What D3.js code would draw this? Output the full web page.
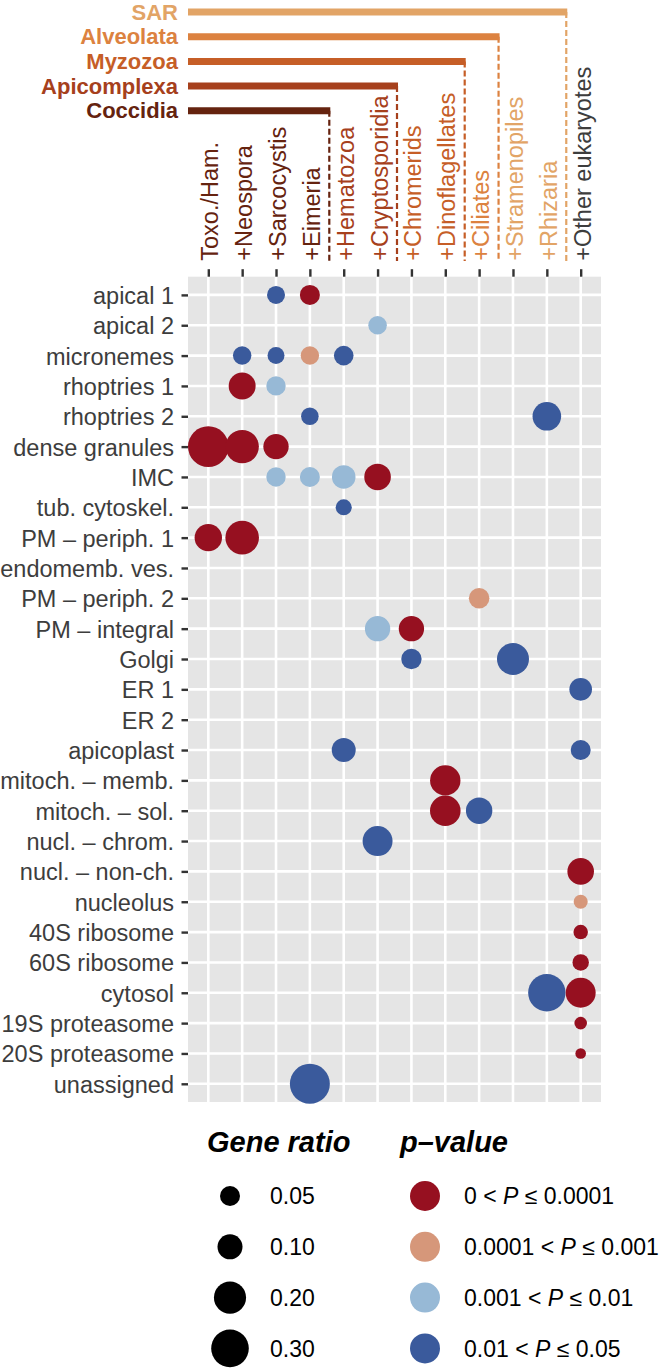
<!DOCTYPE html>
<html><head><meta charset="utf-8">
<script src="https://cdn.jsdelivr.net/npm/d3@7"></script>
<style>
body{margin:0;background:#fff}
svg{display:block}
text{font-family:"Liberation Sans",Arial,Helvetica,sans-serif}
</style>
</head><body>
<svg id="c" width="661" height="1368"></svg>
<script>
const categories = ["apical 1","apical 2","micronemes","rhoptries 1","rhoptries 2","dense granules","IMC","tub. cytoskel.","PM – periph. 1","endomemb. ves.","PM – periph. 2","PM – integral","Golgi","ER 1","ER 2","apicoplast","mitoch. – memb.","mitoch. – sol.","nucl. – chrom.","nucl. – non-ch.","nucleolus","40S ribosome","60S ribosome","cytosol","19S proteasome","20S proteasome","unassigned"];
const taxa = ["Toxo./Ham.","+Neospora","+Sarcocystis","+Eimeria","+Hematozoa","+Cryptosporidia","+Chromerids","+Dinoflagellates","+Ciliates","+Stramenopiles","+Rhizaria","+Other eukaryotes"];
const clades = ["SAR","Alveolata","Myzozoa","Apicomplexa","Coccidia"];
const cladeLastTaxon = ["+Rhizaria","+Ciliates","+Dinoflagellates","+Cryptosporidia","+Eimeria"];
const cladeColors = ["#E2A466","#DC8240","#C65E27","#A6401C","#65230F"];
const otherTaxonColor = "#3d3d3d";
const pBreaks = ["0","0.0001","0.001","0.01","0.05"];
const pColors = ["#961020","#D6977A","#97B9D6","#3A5A9C"];
const sizeBreaks = [0.05,0.10,0.20,0.30];
const sizeLabels = ["0.05","0.10","0.20","0.30"];
// [category, taxon, gene ratio, p-value class (0..3)]
const dots = [
  ["apical 1","+Sarcocystis",0.035,3],
  ["apical 1","+Eimeria",0.050,0],
  ["apical 2","+Cryptosporidia",0.039,2],
  ["micronemes","+Neospora",0.038,3],
  ["micronemes","+Sarcocystis",0.028,3],
  ["micronemes","+Eimeria",0.038,1],
  ["micronemes","+Hematozoa",0.047,3],
  ["rhoptries 1","+Neospora",0.124,0],
  ["rhoptries 1","+Sarcocystis",0.045,2],
  ["rhoptries 2","+Eimeria",0.032,3],
  ["rhoptries 2","+Rhizaria",0.146,3],
  ["dense granules","Toxo./Ham.",0.364,0],
  ["dense granules","+Neospora",0.221,0],
  ["dense granules","+Sarcocystis",0.104,0],
  ["IMC","+Sarcocystis",0.045,2],
  ["IMC","+Eimeria",0.050,2],
  ["IMC","+Hematozoa",0.084,2],
  ["IMC","+Cryptosporidia",0.119,0],
  ["tub. cytoskel.","+Hematozoa",0.0225,3],
  ["PM – periph. 1","Toxo./Ham.",0.130,0],
  ["PM – periph. 1","+Neospora",0.225,0],
  ["PM – periph. 2","+Ciliates",0.055,1],
  ["PM – integral","+Cryptosporidia",0.104,2],
  ["PM – integral","+Chromerids",0.104,0],
  ["Golgi","+Chromerids",0.053,3],
  ["Golgi","+Stramenopiles",0.198,3],
  ["ER 1","+Other eukaryotes",0.074,3],
  ["apicoplast","+Hematozoa",0.088,3],
  ["apicoplast","+Other eukaryotes",0.050,3],
  ["mitoch. – memb.","+Dinoflagellates",0.172,0],
  ["mitoch. – sol.","+Dinoflagellates",0.175,0],
  ["mitoch. – sol.","+Ciliates",0.117,3],
  ["nucl. – chrom.","+Cryptosporidia",0.166,3],
  ["nucl. – non-ch.","+Other eukaryotes",0.119,0],
  ["nucleolus","+Other eukaryotes",0.013,1],
  ["40S ribosome","+Other eukaryotes",0.015,0],
  ["60S ribosome","+Other eukaryotes",0.025,0],
  ["cytosol","+Rhizaria",0.296,3],
  ["cytosol","+Other eukaryotes",0.166,0],
  ["19S proteasome","+Other eukaryotes",0.0076,0],
  ["20S proteasome","+Other eukaryotes",0.0026,0],
  ["unassigned","+Eimeria",0.350,3]
];

const svg = d3.select("#c");
const P = {l:188, r:601, t:276.7, b:1102};
const FS = "23.5px";
const LFS = "23px";

const x = d3.scalePoint().domain(taxa).range([P.l, P.r]).padding(0.6);
const y = d3.scalePoint().domain(categories).range([P.t, P.b]).padding(0.6);
const r = d3.scalePow().exponent(0.5).domain([0.05, 0.30]).range([10, 18.8]);

// panel
svg.append("rect").attr("x",P.l).attr("y",P.t).attr("width",P.r-P.l).attr("height",P.b-P.t).attr("fill","#E5E5E5");
const grid = svg.append("g").attr("stroke","#fff").attr("stroke-width",2.6);
grid.selectAll("line.v").data(taxa).join("line").attr("class","v")
  .attr("x1",d=>x(d)).attr("x2",d=>x(d)).attr("y1",P.t).attr("y2",P.b);
grid.selectAll("line.h").data(categories).join("line").attr("class","h")
  .attr("y1",d=>y(d)).attr("y2",d=>y(d)).attr("x1",P.l).attr("x2",P.r);

// left axis
const ya = svg.append("g").attr("transform",`translate(${P.l},0)`)
  .call(d3.axisLeft(y).tickSize(6.5).tickPadding(7.5));
ya.select(".domain").remove();
ya.selectAll(".tick line").attr("stroke","#333").attr("stroke-width",2.4);
ya.selectAll(".tick text").attr("fill","#3d3d3d").style("font-size",FS).attr("dy","0.36em");

// taxon color: innermost clade containing it
function taxonColor(t){
  const i = taxa.indexOf(t);
  let col = otherTaxonColor, bestEnd = Infinity;
  cladeLastTaxon.forEach((e,k)=>{
    const ei = taxa.indexOf(e);
    if (i <= ei && ei < bestEnd){ bestEnd = ei; col = cladeColors[k]; }
  });
  return col;
}

// top axis
const xa = svg.append("g").attr("transform",`translate(0,${P.t})`)
  .call(d3.axisTop(x).tickSize(7.5));
xa.select(".domain").remove();
xa.selectAll(".tick line").attr("stroke","#333").attr("stroke-width",2.4);
xa.selectAll(".tick text")
  .attr("x",0).attr("y",0).attr("dy",0)
  .attr("text-anchor","start")
  .attr("transform","translate(9.5,-16) rotate(-90)")
  .style("font-size",FS)
  .attr("fill",d=>taxonColor(d));

// clade brackets
const labBottom = 261;
clades.forEach((c,k)=>{
  const yy = 12 + 24.7*k;
  const ei = taxa.indexOf(cladeLastTaxon[k]);
  const xe = (x(taxa[ei]) + x(taxa[ei+1]))/2 + 2.5;
  const g = svg.append("g");
  g.append("line").attr("x1",P.l).attr("x2",xe+1).attr("y1",yy).attr("y2",yy)
    .attr("stroke",cladeColors[k]).attr("stroke-width",7);
  g.append("line").attr("x1",xe).attr("x2",xe).attr("y1",yy).attr("y2",labBottom)
    .attr("stroke",cladeColors[k]).attr("stroke-width",2.2).attr("stroke-dasharray","6,3");
  g.append("text").attr("x",178).attr("y",yy+7.5).attr("text-anchor","end")
    .style("font-size","22px").style("font-weight","bold").attr("fill",cladeColors[k]).text(c);
});

// dots
svg.append("g").selectAll("circle").data(dots).join("circle")
  .attr("cx",d=>x(d[1])).attr("cy",d=>y(d[0])).attr("r",d=>r(d[2]))
  .attr("fill",d=>pColors[d[3]]);

// legends
const lg = svg.append("g");
lg.append("text").attr("x",207).attr("y",1152).style("font-size","29px")
  .style("font-weight","bold").style("font-style","italic").attr("fill","#000").text("Gene ratio");
lg.append("text").attr("x",400).attr("y",1152).style("font-size","29px")
  .style("font-weight","bold").style("font-style","italic").attr("fill","#000").text("p–value");
const ly = i => 1196 + i*50.8;
sizeBreaks.forEach((v,i)=>{
  lg.append("circle").attr("cx",230).attr("cy",ly(i)).attr("r",r(v)).attr("fill","#000");
  lg.append("text").attr("x",270).attr("y",ly(i)).attr("dy","0.36em").style("font-size",LFS)
    .attr("fill","#000").text(sizeLabels[i]);
});
pColors.forEach((c,i)=>{
  lg.append("circle").attr("cx",425).attr("cy",ly(i)).attr("r",15).attr("fill",c);
  const t = lg.append("text").attr("x",464).attr("y",ly(i)).attr("dy","0.36em").style("font-size",LFS).attr("fill","#000");
  t.append("tspan").text(pBreaks[i] + " < ");
  t.append("tspan").style("font-style","italic").text("P");
  t.append("tspan").text(" ≤ " + pBreaks[i+1]);
});
</script>
</body></html>
